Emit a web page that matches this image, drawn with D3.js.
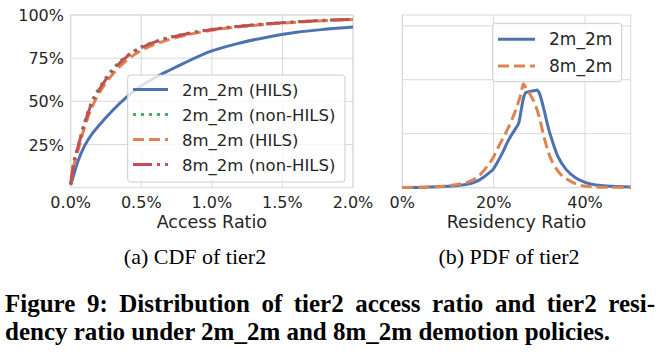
<!doctype html>
<html>
<head>
<meta charset="utf-8">
<script src="https://cdn.jsdelivr.net/npm/d3@7"></script>
<style>
  body { margin: 0; background: #fff; }
  svg text { font-family: "DejaVu Sans", sans-serif; fill: #262626; }
  svg .cap { font-family: "Liberation Serif", "DejaVu Serif", serif; fill: #000; }
</style>
</head>
<body>
<div id="main"></div>
<script>
// ---- data ----
// (a) CDF of tier2 access ratio
var accessX = [0, 0.0002, 0.0005, 0.001, 0.0015, 0.002, 0.003, 0.004, 0.005, 0.006, 0.007, 0.008, 0.01, 0.012, 0.014, 0.016, 0.018, 0.02];
var cdf2mHils    = [0.015, 0.07, 0.15, 0.245, 0.31, 0.36, 0.45, 0.527, 0.59, 0.638, 0.68, 0.72, 0.792, 0.838, 0.873, 0.9, 0.917, 0.93];
var cdf2mNonHils = [0.02, 0.14, 0.235, 0.385, 0.5, 0.575, 0.69, 0.765, 0.815, 0.847, 0.871, 0.889, 0.917, 0.936, 0.95, 0.961, 0.969, 0.976];
var cdf8mHils    = [0.02, 0.12, 0.21, 0.355, 0.465, 0.545, 0.66, 0.74, 0.795, 0.831, 0.859, 0.88, 0.912, 0.932, 0.947, 0.958, 0.967, 0.974];
var cdf8mNonHils = [0.02, 0.135, 0.23, 0.375, 0.49, 0.565, 0.68, 0.76, 0.81, 0.844, 0.869, 0.887, 0.916, 0.935, 0.949, 0.96, 0.969, 0.975];
var cdfNames = ["2m_2m (HILS)", "2m_2m (non-HILS)", "8m_2m (HILS)", "8m_2m (non-HILS)"];
var cdfXTicks = [0, 0.005, 0.01, 0.015, 0.02];
var cdfYTicks = [0.25, 0.5, 0.75, 1.0];

// (b) PDF of tier2 residency ratio
var pdfX2m = [0, 0.05, 0.1, 0.13, 0.15, 0.17, 0.19, 0.2, 0.21, 0.22, 0.23, 0.24, 0.25, 0.255, 0.26, 0.265, 0.27, 0.28, 0.29, 0.295, 0.3, 0.31, 0.32, 0.33, 0.34, 0.36, 0.38, 0.4, 0.43, 0.46, 0.5];
var pdf2m  = [0.01, 0.02, 0.05, 0.1, 0.15, 0.3, 0.55, 0.71, 1.0, 1.32, 1.68, 1.98, 2.25, 2.4, 2.85, 3.3, 3.52, 3.57, 3.6, 3.62, 3.5, 2.9, 2.2, 1.65, 1.18, 0.65, 0.36, 0.2, 0.09, 0.05, 0.03];
var pdfX8m = [0, 0.05, 0.1, 0.12, 0.15, 0.165, 0.185, 0.2, 0.21, 0.23, 0.25, 0.26, 0.265, 0.27, 0.28, 0.29, 0.3, 0.31, 0.32, 0.33, 0.345, 0.36, 0.375, 0.39, 0.405, 0.43, 0.5];
var pdf8m  = [0.01, 0.02, 0.07, 0.12, 0.25, 0.4, 0.77, 1.15, 1.5, 2.15, 2.96, 3.5, 3.85, 3.72, 3.45, 3.12, 2.6, 1.9, 1.3, 0.9, 0.53, 0.32, 0.18, 0.09, 0.05, 0.02, 0.01];
var pdfNames = ["2m_2m", "8m_2m"];
var pdfXTicks = [0, 0.2, 0.4];
var pdfYTicks = [0, 2, 4, 6];

var colors = ["#4c72b0", "#55a868", "#dd8452", "#c44e52"];
var dashes = [null, "3,5", "11,5", "19,5,3,5"];

var svg = d3.select("#main").append("svg")
  .attr("width", 660).attr("height", 364);

var gridColor = "#d9d9d9";

// ---------- (a) CDF ----------
var xa = d3.scaleLinear().domain([0, 0.02]).range([70.7, 353]);
var ya = d3.scaleLinear().domain([0, 1]).range([187.7, 15]);

var ga = svg.append("g");
ga.selectAll("line.vg").data(cdfXTicks).enter().append("line")
  .attr("x1", function(d) { return xa(d); }).attr("x2", function(d) { return xa(d); })
  .attr("y1", ya(0)).attr("y2", ya(1))
  .style("stroke", gridColor).style("stroke-width", 1);
ga.selectAll("line.hg").data(cdfYTicks).enter().append("line")
  .attr("x1", xa(0)).attr("x2", xa(0.02))
  .attr("y1", function(d) { return ya(d); }).attr("y2", function(d) { return ya(d); })
  .style("stroke", gridColor).style("stroke-width", 1);
ga.append("rect")
  .attr("x", xa(0)).attr("y", ya(1))
  .attr("width", xa(0.02) - xa(0)).attr("height", ya(0) - ya(1))
  .style("fill", "none").style("stroke", gridColor).style("stroke-width", 1);

// tick labels
var pctA = d3.format(".1%");
ga.selectAll("text.xt").data(cdfXTicks).enter().append("text")
  .attr("x", function(d) { return xa(d); }).attr("y", 207.5)
  .attr("text-anchor", "middle").style("font-size", "16px")
  .text(function(d) { return pctA(d); });
ga.selectAll("text.yt").data(cdfYTicks).enter().append("text")
  .attr("x", 64).attr("y", function(d) { return ya(d) + 6; })
  .attr("text-anchor", "end").style("font-size", "16px")
  .text(function(d) { return d3.format(".0%")(d); });
ga.append("text").attr("x", (xa(0) + xa(0.02)) / 2).attr("y", 228)
  .attr("text-anchor", "middle").style("font-size", "17.5px").text("Access Ratio");

var cdfSeries = [cdf2mHils, cdf2mNonHils, cdf8mHils, cdf8mNonHils];
var lineA = d3.line()
  .x(function(d, i) { return xa(accessX[i]); })
  .y(function(d) { return ya(d); })
  .curve(d3.curveMonotoneX);
cdfSeries.forEach(function(s, i) {
  ga.append("path").datum(s).attr("d", lineA)
    .style("fill", "none").style("stroke", colors[i]).style("stroke-width", 3)
    .style("stroke-dasharray", dashes[i]);
});

// legend (a)
var la = ga.append("g");
la.append("rect").attr("x", 127.7).attr("y", 75).attr("width", 217.3).attr("height", 107)
  .attr("rx", 3).attr("ry", 3)
  .style("fill", "#fff").style("fill-opacity", 0.8).style("stroke", "#cccccc").style("stroke-width", 1);
cdfNames.forEach(function(n, i) {
  var y = 89.5 + i * 25;
  la.append("line").attr("x1", 133).attr("x2", 168).attr("y1", y).attr("y2", y)
    .style("stroke", colors[i]).style("stroke-width", 3).style("stroke-dasharray", dashes[i]);
  la.append("text").attr("x", 182).attr("y", y + 6).style("font-size", "16.5px").text(n);
});

// ---------- (b) PDF ----------
var xb = d3.scaleLinear().domain([0, 0.5]).range([402.3, 630.7]);
var yb = d3.scaleLinear().domain([0, 6.4]).range([187.7, 15]);

var gb = svg.append("g");
gb.selectAll("line.vg").data(pdfXTicks).enter().append("line")
  .attr("x1", function(d) { return xb(d); }).attr("x2", function(d) { return xb(d); })
  .attr("y1", yb(0)).attr("y2", yb(6.4))
  .style("stroke", gridColor).style("stroke-width", 1);
gb.selectAll("line.hg").data(pdfYTicks).enter().append("line")
  .attr("x1", xb(0)).attr("x2", xb(0.5))
  .attr("y1", function(d) { return yb(d); }).attr("y2", function(d) { return yb(d); })
  .style("stroke", gridColor).style("stroke-width", 1);
gb.append("rect")
  .attr("x", xb(0)).attr("y", yb(6.4))
  .attr("width", xb(0.5) - xb(0)).attr("height", yb(0) - yb(6.4))
  .style("fill", "none").style("stroke", gridColor).style("stroke-width", 1);

gb.selectAll("text.xt").data(pdfXTicks).enter().append("text")
  .attr("x", function(d) { return xb(d); }).attr("y", 207.5)
  .attr("text-anchor", "middle").style("font-size", "16px")
  .text(function(d) { return d3.format(".0%")(d); });
gb.append("text").attr("x", (xb(0) + xb(0.5)) / 2).attr("y", 228)
  .attr("text-anchor", "middle").style("font-size", "17.5px").text("Residency Ratio");

var pdfSeries = [[pdfX2m, pdf2m], [pdfX8m, pdf8m]];
var pdfColors = [colors[0], colors[2]];
var pdfDashes = [null, "11,5"];
pdfSeries.forEach(function(s, i) {
  var line = d3.line()
    .x(function(d, j) { return xb(s[0][j]); })
    .y(function(d) { return yb(d); })
    .curve(d3.curveMonotoneX);
  gb.append("path").datum(s[1]).attr("d", line)
    .style("fill", "none").style("stroke", pdfColors[i]).style("stroke-width", 3)
    .style("stroke-dasharray", pdfDashes[i]);
});

var lb = gb.append("g");
lb.append("rect").attr("x", 492.7).attr("y", 23.3).attr("width", 129).attr("height", 58.4)
  .attr("rx", 3).attr("ry", 3)
  .style("fill", "#fff").style("fill-opacity", 0.8).style("stroke", "#cccccc").style("stroke-width", 1);
pdfNames.forEach(function(n, i) {
  var y = 39.3 + i * 26.7;
  lb.append("line").attr("x1", 498).attr("x2", 535).attr("y1", y).attr("y2", y)
    .style("stroke", pdfColors[i]).style("stroke-width", 3).style("stroke-dasharray", pdfDashes[i]);
  lb.append("text").attr("x", 549).attr("y", y + 6).style("font-size", "17px").text(n);
});

// ---------- captions ----------
svg.append("text").attr("class", "cap").attr("x", 195).attr("y", 264)
  .attr("text-anchor", "middle").style("font-size", "22px").text("(a) CDF of tier2");
svg.append("text").attr("class", "cap").attr("x", 509).attr("y", 264)
  .attr("text-anchor", "middle").style("font-size", "22px").text("(b) PDF of tier2");

// second line sets the font size: it runs from x=5 to about x=617
var line2 = svg.append("text").attr("class", "cap").attr("x", 5).attr("y", 340)
  .style("font-size", "22px").style("font-weight", "bold")
  .text("dency ratio under 2m_2m and 8m_2m demotion policies.");
var capSize = Math.min(25, 22 * 612 / line2.node().getComputedTextLength());
line2.style("font-size", capSize + "px");

// justified first line of the figure caption
var line1 = "Figure 9: Distribution of tier2 access ratio and tier2 resi-".split(" ");
var words = svg.append("g").selectAll("text").data(line1).enter().append("text")
  .attr("class", "cap").attr("y", 311.7)
  .style("font-size", capSize + "px").style("font-weight", "bold")
  .text(function(d) { return d; });
var widths = [];
words.each(function() { widths.push(this.getComputedTextLength()); });
var gap = (650 - d3.sum(widths)) / (widths.length - 1);
var cx = 5;
words.attr("x", function(d, i) { var x = cx; cx += widths[i] + gap; return x; });
</script>
</body>
</html>
